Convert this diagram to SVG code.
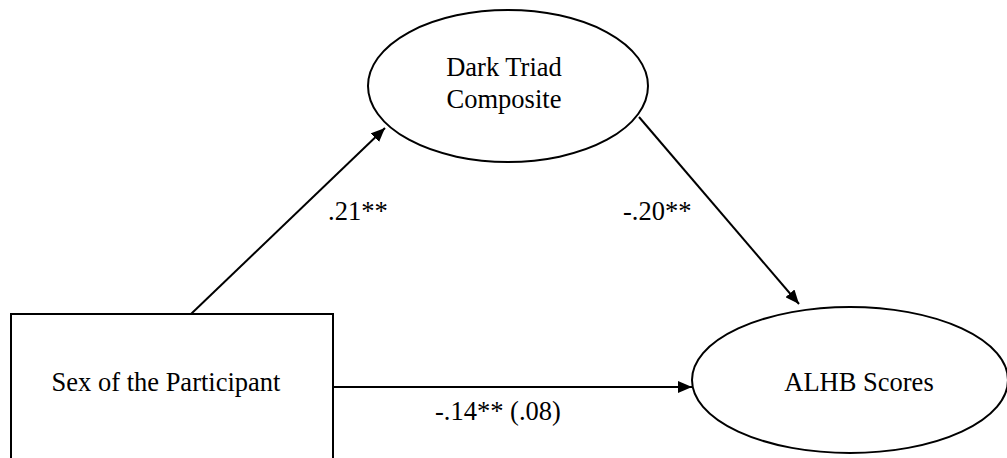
<svg xmlns="http://www.w3.org/2000/svg" width="1007" height="458" viewBox="0 0 1007 458">
<style>
.shape{fill:#fff;stroke:#000;stroke-width:2}
.edge{fill:none;stroke:#000;stroke-width:2}
text{font-family:"Liberation Serif","Times New Roman",serif;font-size:26.5px;fill:#000}
.c{text-anchor:middle}
</style>
<defs>
<marker id="arr" viewBox="0 0 14 12" refX="14" refY="6" markerWidth="14" markerHeight="12" markerUnits="userSpaceOnUse" orient="auto">
<path d="M0,0 L14,6 L0,12 Z" fill="#000"/>
</marker>
</defs>
<rect width="1007" height="458" fill="#fff"/>
<g id="dark-triad">
<ellipse class="shape" cx="508" cy="86" rx="140" ry="76"/>
<text class="c" x="504" y="76">Dark Triad</text>
<text class="c" x="504" y="108">Composite</text>
</g>
<g id="sex">
<rect class="shape" x="11" y="314" width="322" height="160"/>
<text class="c" x="166" y="391">Sex of the Participant</text>
</g>
<g id="alhb">
<ellipse class="shape" cx="850" cy="380" rx="158" ry="73"/>
<text class="c" x="859" y="391">ALHB Scores</text>
</g>
<g id="connectors">
<line class="edge" x1="191" y1="314" x2="385" y2="128" marker-end="url(#arr)"/>
<line class="edge" x1="639" y1="117" x2="799" y2="304" marker-end="url(#arr)"/>
<line class="edge" x1="333" y1="387" x2="692" y2="387" marker-end="url(#arr)"/>
<text x="328" y="220">.21**</text>
<text x="623" y="220">-.20**</text>
<text x="435" y="420">-.14** (.08)</text>
</g>
</svg>
